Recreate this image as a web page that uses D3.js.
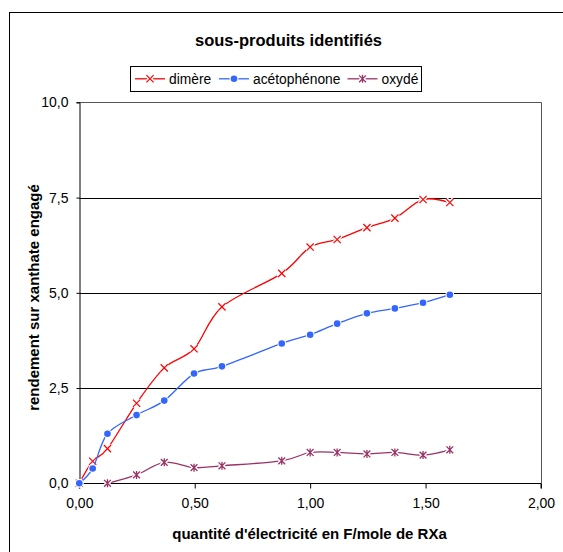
<!DOCTYPE html>
<html>
<head>
<meta charset="utf-8">
<script src="https://cdn.jsdelivr.net/npm/d3@7"></script>
<style>
  html, body { margin: 0; padding: 0; background: #fff; }
  svg { display: block; font-family: "Liberation Sans", Arial, sans-serif; }
</style>
</head>
<body>
<svg id="chart" width="563" height="552"></svg>
<script>
// Quantité d'électricité (F/mole de RXa)
const charge = [0, 0.058, 0.122, 0.248, 0.368, 0.497, 0.618, 0.877, 1.0, 1.117, 1.246, 1.367, 1.489, 1.605];
// Rendements sur xanthate engagé
const dimere = [0, 0.58, 0.91, 2.1, 3.03, 3.53, 4.63, 5.51, 6.2, 6.4, 6.71, 6.96, 7.45, 7.37];
const acetophenone = [0, 0.39, 1.3, 1.79, 2.17, 2.88, 3.07, 3.67, 3.9, 4.19, 4.46, 4.59, 4.74, 4.95];
const oxyde = [null, null, 0, 0.22, 0.55, 0.41, 0.46, 0.59, 0.81, 0.81, 0.77, 0.81, 0.74, 0.88];

const seriesNames = ["dimère", "acétophénone", "oxydé"];
const yTicks = [0, 2.5, 5, 7.5, 10];
const xTicks = [0, 0.5, 1, 1.5, 2];

const colors = { "dimère": "#ff0000", "acétophénone": "#3366ff", "oxydé": "#993366" };
const symbols = { "dimère": "cross", "acétophénone": "dot", "oxydé": "star" };

const svg = d3.select("#chart");

// outer chart frame
svg.append("rect")
  .attr("x", 9.5).attr("y", 12.5)
  .attr("width", 700).attr("height", 700)
  .attr("fill", "#fff").attr("stroke", "#000").attr("stroke-width", 1);

const x = d3.scaleLinear().domain([0, 2]).range([79.3, 541]);
const y = d3.scaleLinear().domain([0, 10]).range([483.3, 102.3]);

const comma = f => d => d3.format(f)(d).replace(".", ",");

// horizontal grid lines
svg.append("g")
  .selectAll("line")
  .data(yTicks.filter(d => d > 0 && d < 10))
  .join("line")
  .attr("x1", x(0)).attr("x2", x(2))
  .attr("y1", d => Math.round(y(d)) + 0.5).attr("y2", d => Math.round(y(d)) + 0.5)
  .attr("stroke", "#000").attr("stroke-width", 1);

// plot area border (top and right)
svg.append("path")
  .attr("d", `M${x(0)},${Math.round(y(10)) + 0.5}H${Math.round(x(2)) + 0.5}V${y(0)}`)
  .attr("fill", "none").attr("stroke", "#555").attr("stroke-width", 1);

// axes
const yAxis = svg.append("g")
  .attr("transform", `translate(${Math.round(x(0)) + 0.5},0)`)
  .call(d3.axisLeft(y).tickValues(yTicks).tickSize(3).tickPadding(8).tickFormat(comma(".1f")));
const xAxis = svg.append("g")
  .attr("transform", `translate(0,${Math.round(y(0)) + 0.5})`)
  .call(d3.axisBottom(x).tickValues(xTicks).tickSize(5).tickPadding(10).tickFormat(comma(".2f")));

[yAxis, xAxis].forEach(a => {
  a.select(".domain").attr("stroke", "#000");
  a.selectAll(".tick line").attr("stroke", "#000");
  a.selectAll("text").attr("fill", "#000").attr("font-size", 14)
    .attr("font-family", "'Liberation Sans', Arial, sans-serif");
});
xAxis.select(".domain").attr("d", `M${x(0)},5V0H${x(2)}V5`);

// titles
svg.append("text")
  .attr("x", 288.5).attr("y", 46)
  .attr("text-anchor", "middle")
  .attr("font-size", 16.5).attr("font-weight", "bold")
  .text("sous-produits identifiés");

svg.append("text")
  .attr("x", 309.5).attr("y", 538.5)
  .attr("text-anchor", "middle")
  .attr("font-size", 15).attr("font-weight", "bold")
  .text("quantité d'électricité en F/mole de RXa");

svg.append("text")
  .attr("transform", `translate(38.5,297.5) rotate(-90)`)
  .attr("text-anchor", "middle")
  .attr("font-size", 15).attr("font-weight", "bold")
  .text("rendement sur xanthate engagé");

// marker drawing
function drawMarker(g, type, color, cx, cy) {
  if (type === "cross") {
    const s = 3.6;
    const d = `M${cx - s},${cy - s}L${cx + s},${cy + s}M${cx - s},${cy + s}L${cx + s},${cy - s}`;
    g.append("path").attr("d", d).attr("stroke", "#fff").attr("stroke-width", 4).attr("fill", "none");
    g.append("path").attr("d", d).attr("stroke", color).attr("stroke-width", 1.2).attr("fill", "none");
  } else if (type === "dot") {
    g.append("circle").attr("cx", cx).attr("cy", cy).attr("r", 4.4).attr("fill", "#fff");
    g.append("circle").attr("cx", cx).attr("cy", cy).attr("r", 3.3).attr("fill", color);
  } else {
    const s = 3.4;
    const d = `M${cx - s},${cy - s}L${cx + s},${cy + s}M${cx - s},${cy + s}L${cx + s},${cy - s}M${cx},${cy - s - 0.6}L${cx},${cy + s + 0.6}`;
    g.append("path").attr("d", d).attr("stroke", "#fff").attr("stroke-width", 4).attr("fill", "none");
    g.append("path").attr("d", d).attr("stroke", color).attr("stroke-width", 1.3).attr("fill", "none");
  }
}

// series
const seriesValues = { "dimère": dimere, "acétophénone": acetophenone, "oxydé": oxyde };
const line = d3.line()
  .defined(d => d[1] !== null)
  .x(d => x(d[0])).y(d => y(d[1]))
  .curve(d3.curveCatmullRom.alpha(0));

seriesNames.forEach(name => {
  const pts = charge.map((c, i) => [c, seriesValues[name][i]]);
  const g = svg.append("g");
  g.append("path")
    .attr("d", line(pts))
    .attr("fill", "none")
    .attr("stroke", colors[name])
    .attr("stroke-width", 1.3);
  pts.filter(p => p[1] !== null).forEach(p => drawMarker(g, symbols[name], colors[name], x(p[0]), y(p[1])));
});

// legend
const legend = svg.append("g");
legend.append("rect")
  .attr("x", 130.5).attr("y", 66.5).attr("width", 291).attr("height", 25)
  .attr("fill", "#fff").attr("stroke", "#000").attr("stroke-width", 1);
const legendItems = [
  { name: "dimère", x0: 135 },
  { name: "acétophénone", x0: 219 },
  { name: "oxydé", x0: 347.5 }
];
legendItems.forEach(it => {
  const ly = 78.8;
  legend.append("line")
    .attr("x1", it.x0).attr("x2", it.x0 + 30)
    .attr("y1", ly).attr("y2", ly)
    .attr("stroke", colors[it.name]).attr("stroke-width", 1.3);
  drawMarker(legend, symbols[it.name], colors[it.name], it.x0 + 15, ly);
  legend.append("text")
    .attr("x", it.x0 + 34).attr("y", ly)
    .attr("dy", "0.35em")
    .attr("font-size", 13.8)
    .text(it.name);
});
</script>
</body>
</html>
